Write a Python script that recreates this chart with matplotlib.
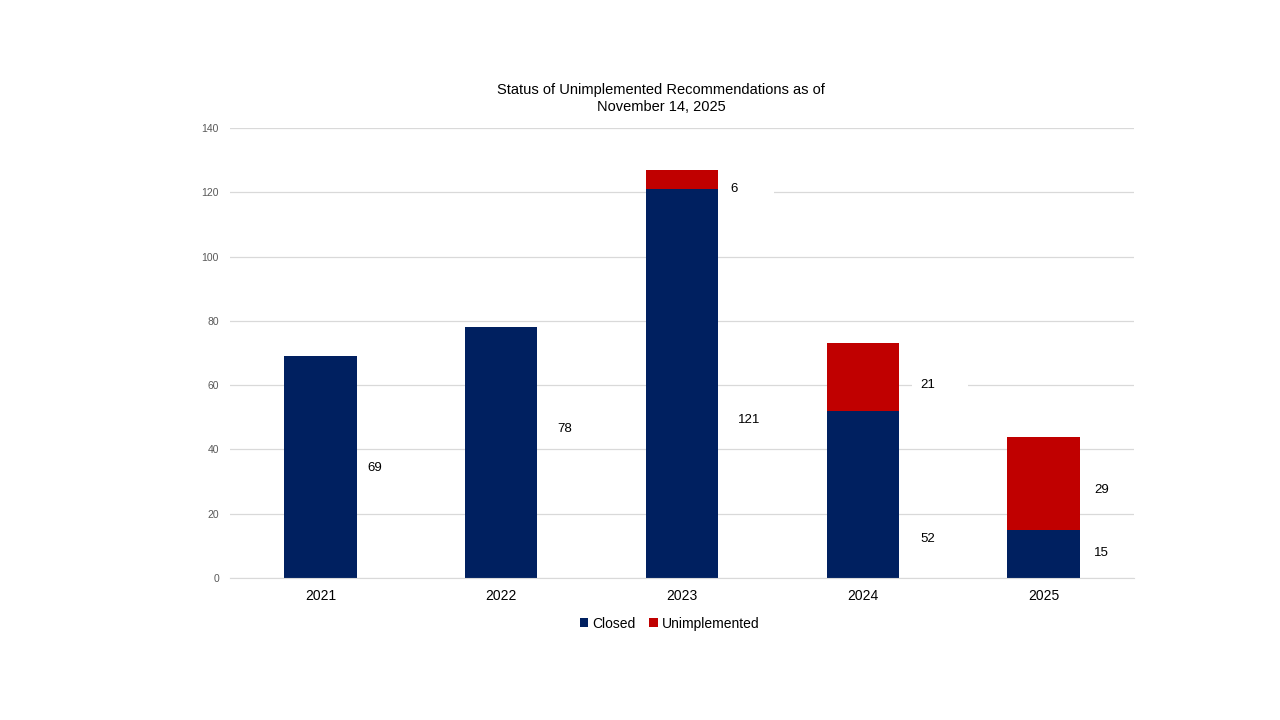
import numpy as np
import matplotlib.pyplot as plt
from matplotlib.patches import Rectangle

plt.rcParams['font.family'] = ['Liberation Sans', 'DejaVu Sans']

years = ['2021', '2022', '2023', '2024', '2025']
closed = [69, 78, 121, 52, 15]
unimplemented = [0, 0, 6, 21, 29]

# where the value labels sit (data units), as placed in the original
closed_label_y = [34.2, 46.4, 49.2, 12.2, 7.8]
unimp_label_y = [None, None, 121.1, 60.1, 27.4]
closed_label_dx = [0.30, 0.35, 0.37, 0.36, 0.32]
unimp_label_dx = [None, None, 0.29, 0.36, 0.32]

navy = '#002060'
red = '#C00000'

fig = plt.figure(figsize=(12.8, 7.2), dpi=100)
ax = fig.add_axes([0.1797, 0.1972, 0.7062, 0.625])

x = np.arange(len(years))
ax.bar(x, closed, width=0.4, color=navy, label='Closed', zorder=2)
ax.bar(x, unimplemented, width=0.4, bottom=closed, color=red,
       label='Unimplemented', zorder=2)

for i in range(len(years)):
    ax.text(x[i] + closed_label_dx[i], closed_label_y[i], str(closed[i]),
            ha='center', va='center', fontsize=9.5, zorder=4)
    if unimplemented[i] > 0:
        lx = x[i] + unimp_label_dx[i]
        ax.text(lx, unimp_label_y[i], str(unimplemented[i]),
                ha='center', va='center', fontsize=9.5, zorder=4)
        # white label box that breaks the gridline, as in the original
        ax.add_patch(Rectangle((max(lx - 0.09, x[i] + 0.2), unimp_label_y[i] - 3.5),
                               lx + 0.22 - max(lx - 0.09, x[i] + 0.2), 7,
                               facecolor='white', edgecolor='none', zorder=1.5))

ax.set_xlim(-0.5, len(years) - 0.5)
ax.set_ylim(0, 140)
ax.set_yticks(np.arange(0, 141, 20))
ax.set_xticks(x)
ax.set_xticklabels(years, fontsize=10)
ax.tick_params(axis='y', labelsize=7.5, labelcolor='#595959', length=0, pad=8)
ax.tick_params(axis='x', length=0, pad=8)
ax.grid(axis='y', color='#d9d9d9', linewidth=0.9, zorder=0)
ax.set_axisbelow(True)
for s in ['top', 'right', 'left']:
    ax.spines[s].set_visible(False)
ax.spines['bottom'].set_color('#d9d9d9')

ax.set_title('Status of Unimplemented Recommendations as of\nNovember 14, 2025',
             fontsize=10.5, pad=12.5, linespacing=1.22, x=0.477)

fig.legend(loc='center', bbox_to_anchor=(0.523, 0.134), ncol=2, frameon=False,
           fontsize=10, handlelength=0.6, handleheight=0.6, handletextpad=0.3,
           columnspacing=1.0)

fig.savefig('out.png', dpi=100)
